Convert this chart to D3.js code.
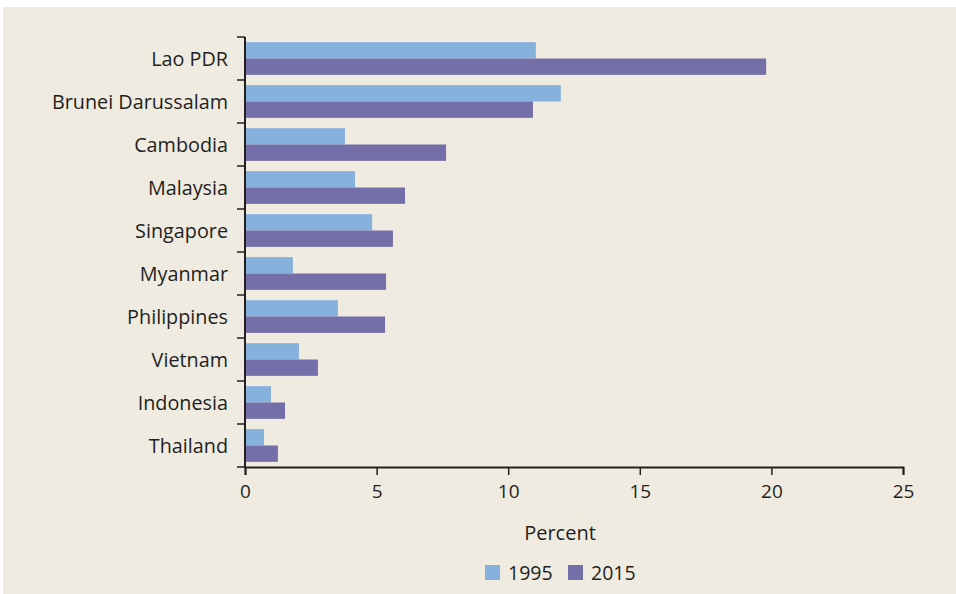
<!DOCTYPE html>
<html>
<head>
<meta charset="utf-8">
<script src="https://cdn.jsdelivr.net/npm/d3@7"></script>
<style>
  html, body { margin: 0; padding: 0; background: #fff; }
  svg text { font-family: "Open Sans", "Lato", sans-serif; fill: #231f20; }
</style>
</head>
<body>
<div id="chart"></div>
<script>
// categories, top to bottom
const countries = ["Lao PDR", "Brunei Darussalam", "Cambodia", "Malaysia", "Singapore",
  "Myanmar", "Philippines", "Vietnam", "Indonesia", "Thailand"];
const years = ["1995", "2015"];
const values1995 = [11.05, 12.0, 3.8, 4.18, 4.83, 1.82, 3.53, 2.05, 0.99, 0.72];
const values2015 = [19.8, 10.94, 7.64, 6.08, 5.62, 5.36, 5.32, 2.77, 1.52, 1.25];
const xTicks = [0, 5, 10, 15, 20, 25];
const colors = ["#86b1dc", "#746ea9"];

const width = 956, height = 594;
const margin = {top: 37, right: 53, bottom: 127, left: 245};

let svg = d3.select("#chart").append("svg")
  .attr("width", width)
  .attr("height", height);

// panel background
svg.append("rect")
  .attr("x", 3).attr("y", 7)
  .attr("width", width - 3).attr("height", height - 7)
  .attr("fill", "#f0ebe1");

let x = d3.scaleLinear().domain([0, 25]).range([margin.left, width - margin.right]);
let y = d3.scaleBand().domain(countries)
  .range([margin.top, height - margin.bottom])
  .paddingInner(0.24).paddingOuter(0.12);
let ySub = d3.scaleBand().domain(years).range([0, y.bandwidth()]);

let rows = countries.map((c, i) => ({country: c, vals: [values1995[i], values2015[i]]}));

// bars
let g = svg.append("g");
g.selectAll("g.row")
  .data(rows)
  .join("g")
  .attr("class", "row")
  .attr("transform", d => "translate(0," + y(d.country) + ")")
  .selectAll("rect")
  .data(d => d.vals.map((v, j) => ({year: years[j], v: v, j: j})))
  .join("rect")
  .attr("x", x(0))
  .attr("y", d => ySub(d.year))
  .attr("width", d => x(d.v) - x(0))
  .attr("height", ySub.bandwidth())
  .attr("fill", d => colors[d.j]);

// y axis: ticks at band boundaries
let step = y.step();
let bounds = d3.range(countries.length + 1).map(i => margin.top + i * step);
let yAxis = svg.append("g");
yAxis.selectAll("line.tick")
  .data(bounds)
  .join("line")
  .attr("x1", x(0) - 8).attr("x2", x(0))
  .attr("y1", d => d).attr("y2", d => d)
  .attr("stroke", "#231f20").attr("stroke-width", 1.5);
yAxis.append("line")
  .attr("x1", x(0)).attr("x2", x(0))
  .attr("y1", margin.top).attr("y2", height - margin.bottom)
  .attr("stroke", "#231f20").attr("stroke-width", 2);
yAxis.selectAll("text")
  .data(countries)
  .join("text")
  .attr("x", x(0) - 17)
  .attr("y", d => y(d) + y.bandwidth() / 2 + 1)
  .attr("dy", "0.35em")
  .attr("text-anchor", "end")
  .style("font-size", "19.8px")
  .text(d => d);

// x axis
let xAxis = svg.append("g")
  .attr("transform", "translate(0," + (height - margin.bottom) + ")")
  .call(d3.axisBottom(x).tickValues(xTicks).tickSize(8).tickPadding(10).tickFormat(d3.format("d")));
xAxis.select(".domain").attr("stroke", "#231f20").attr("stroke-width", 2);
xAxis.selectAll(".tick line").attr("stroke", "#231f20").attr("stroke-width", 1.5);
xAxis.selectAll(".tick text")
  .style("font-size", "19px")
  .style("font-family", "'Open Sans', sans-serif")
  .attr("fill", "#231f20");

svg.append("text")
  .attr("x", 560).attr("y", 540)
  .attr("text-anchor", "middle")
  .style("font-size", "20px")
  .text("Percent");

// legend
let legend = svg.append("g");
let legendX = [485, 568];
years.forEach((yr, i) => {
  legend.append("rect")
    .attr("x", legendX[i]).attr("y", 565)
    .attr("width", 15).attr("height", 15)
    .attr("fill", colors[i]);
  legend.append("text")
    .attr("x", legendX[i] + 23).attr("y", 573)
    .attr("dy", "0.35em")
    .style("font-size", "19.5px")
    .text(yr);
});
</script>
</body>
</html>
